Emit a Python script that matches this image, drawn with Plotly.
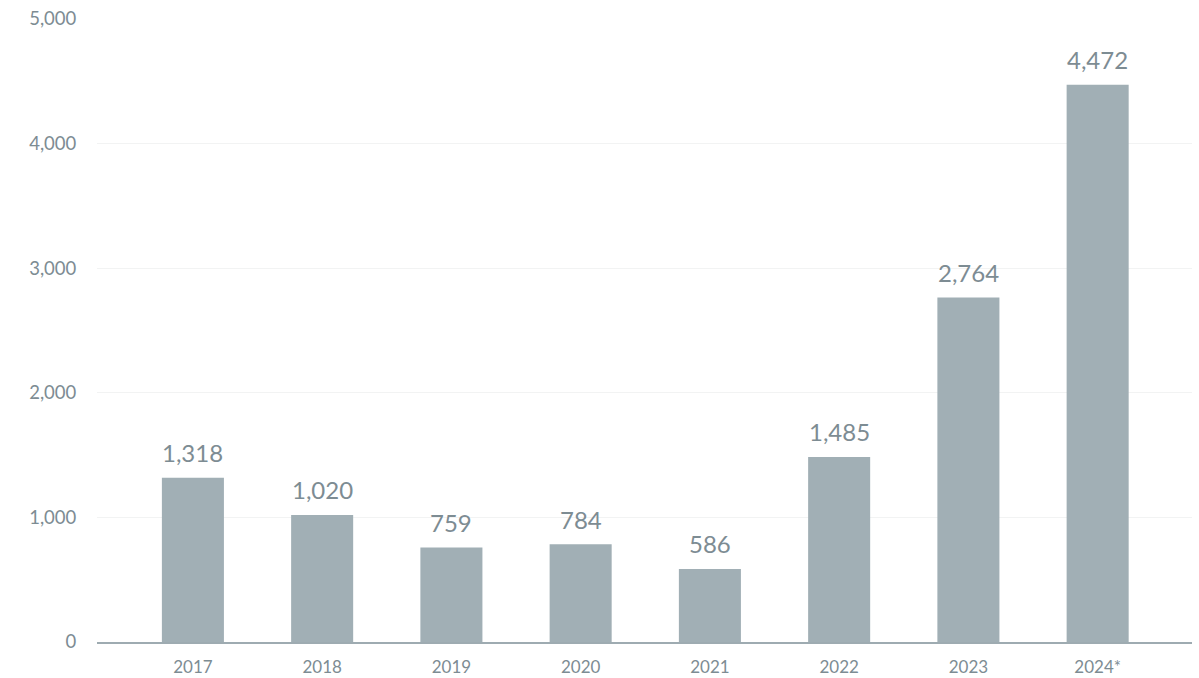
import plotly.graph_objects as go

years = ["2017", "2018", "2019", "2020", "2021", "2022", "2023", "2024*"]
values = [1318, 1020, 759, 784, 586, 1485, 2764, 4472]
y_ticks = [0, 1000, 2000, 3000, 4000, 5000]
y_tick_text = ["0", "1,000", "2,000", "3,000", "4,000", "5,000"]

TEXT = "#7d8c93"

fig = go.Figure(go.Bar(
    x=years, y=values,
    marker=dict(color="#a1afb5", line=dict(width=0)),
    width=0.48,
    hoverinfo="x+y",
))

for i, v in enumerate(values):
    fig.add_annotation(
        x=i, y=v, text=f"{v:,}", showarrow=False,
        yanchor="middle", yshift=25,
        font=dict(family="Lato", size=24, color=TEXT),
    )

fig.update_layout(
    width=1199, height=678,
    margin=dict(l=97, r=7, t=19, b=36),
    paper_bgcolor="white", plot_bgcolor="white",
    showlegend=False,
    font=dict(family="Lato", color=TEXT),
    xaxis=dict(
        type="category",
        range=[-0.742, 7.73],
        automargin=False,
        showgrid=False,
        showline=True, linecolor="#9eabb1", linewidth=1.5,
        ticks="outside", ticklen=9, tickcolor="rgba(0,0,0,0)",
        tickfont=dict(size=17, color=TEXT),
    ),
    yaxis=dict(
        range=[0, 5000],
        automargin=False,
        tickvals=y_ticks, ticktext=y_tick_text,
        showgrid=True, gridcolor="#f2f3f3", gridwidth=1,
        zeroline=False, showline=False,
        ticks="outside", ticklen=16, tickcolor="rgba(0,0,0,0)",
        tickfont=dict(size=18.5, color=TEXT),
    ),
)

fig.write_html(
    "out.html",
    config={"displayModeBar": False},
    post_script="document.body.style.margin='0';document.body.style.overflow='hidden';",
)
